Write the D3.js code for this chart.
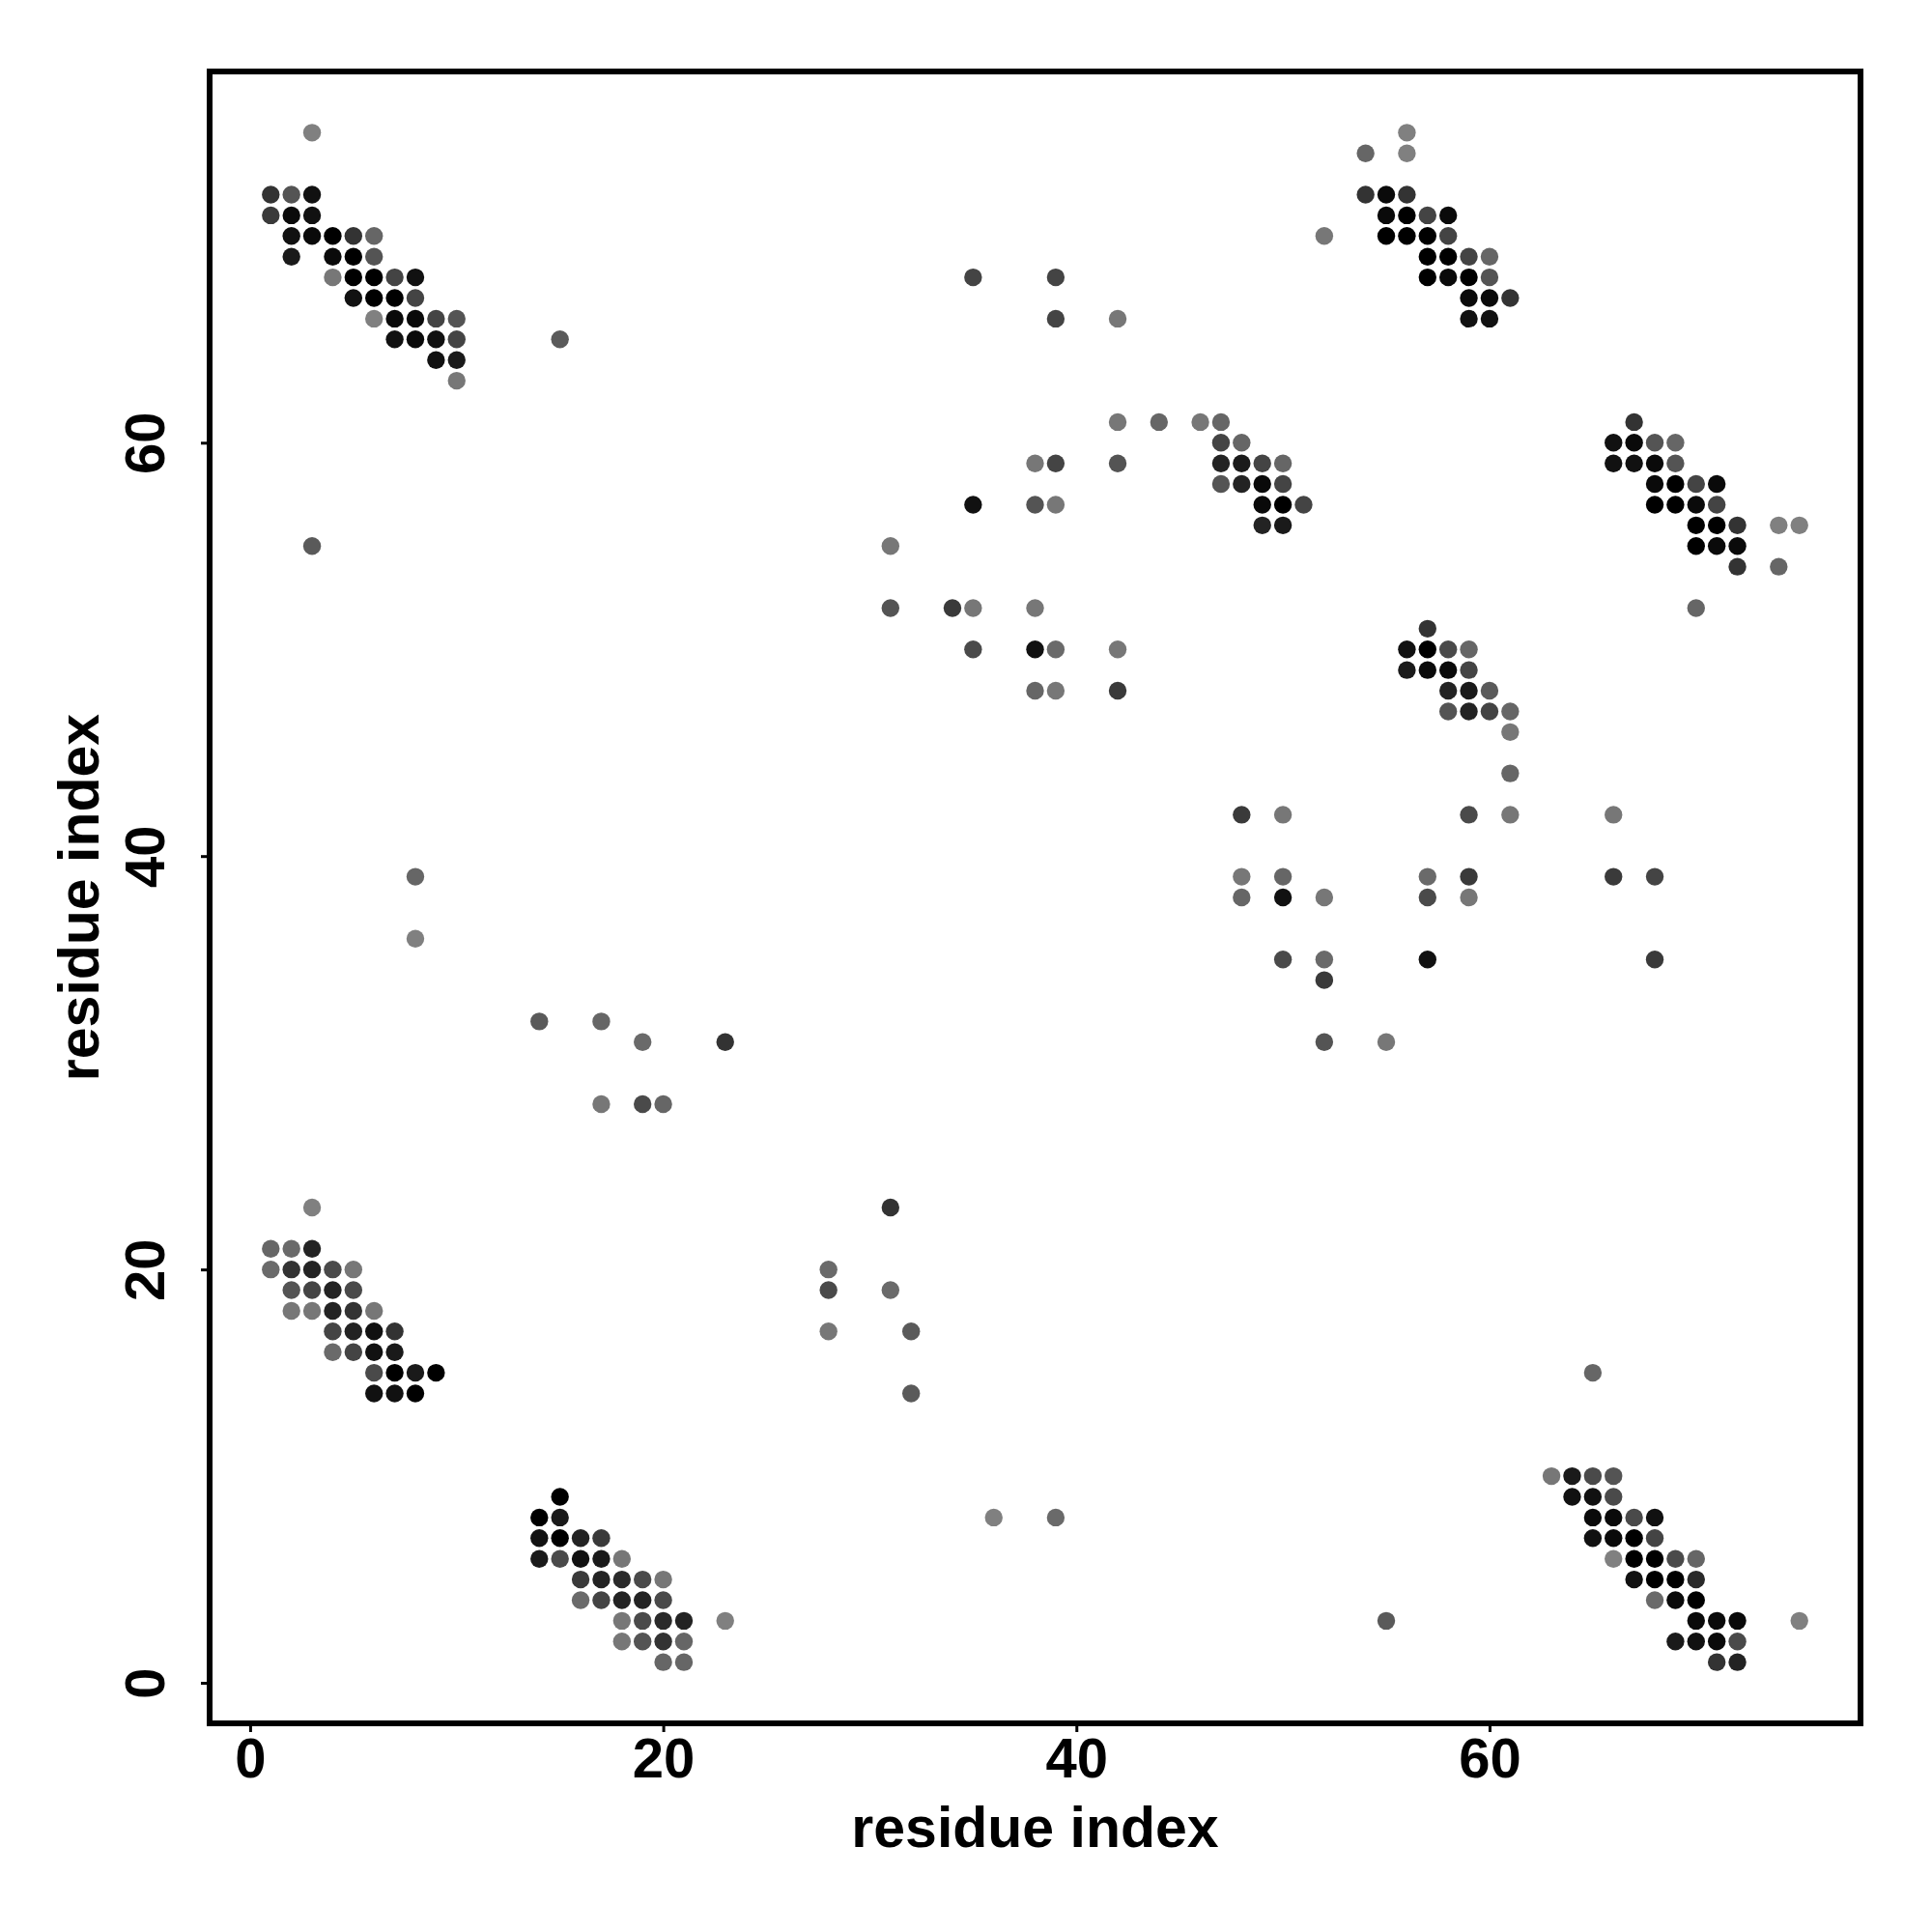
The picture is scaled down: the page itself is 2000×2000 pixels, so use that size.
<!DOCTYPE html>
<html>
<head>
<meta charset="utf-8">
<script src="https://cdn.jsdelivr.net/npm/d3@7"></script>
<style>
  body { margin: 0; background: #fff; }
  text { font-family: "Liberation Sans", Arial, sans-serif; font-weight: bold; fill: #000; }
</style>
</head>
<body>
<div class="canvas"></div>
<script>
// contacts as [residue i, residue j, contact probability]
const topLeftBlock = [
    [3,75,0.00],
    [1,72,0.60],[2,72,0.34],[3,72,0.87],
    [1,71,0.55],[2,71,0.92],[3,71,0.87],
    [2,70,0.87],[3,70,0.92],[4,70,1.00],[5,70,0.60],[6,70,0.20],
    [2,69,0.80],[4,69,0.92],[5,69,1.00],[6,69,0.34],
    [4,68,0.07],[5,68,1.00],[6,68,1.00],[7,68,0.47],[8,68,0.87],
    [5,67,0.87],[6,67,1.00],[7,67,1.00],[8,67,0.47],
    [6,66,0.00],[7,66,0.92],[8,66,0.92],[9,66,0.47],[10,66,0.34],
    [7,65,0.87],[8,65,0.92],[9,65,0.87],[10,65,0.47],
    [9,64,0.87],[10,64,0.80],
    [10,63,0.07],
    [15,65,0.30],[3,55,0.30]
];

const topRightBlock = [
    [56,75,0.00],
    [54,74,0.20],[56,74,0.00],
    [54,72,0.60],[55,72,0.92],[56,72,0.60],
    [55,71,0.92],[56,71,1.00],[57,71,0.47],[58,71,0.92],
    [52,70,0.07],[55,70,1.00],[56,70,1.00],[57,70,1.00],[58,70,0.47],
    [57,69,1.00],[58,69,1.00],[59,69,0.47],[60,69,0.20],
    [57,68,1.00],[58,68,0.92],[59,68,1.00],[60,68,0.34],
    [59,67,0.92],[60,67,0.92],[61,67,0.60],
    [59,66,0.87],[60,66,0.87]
];

const rightBlock = [
    [67,61,0.60],
    [66,60,0.87],[67,60,0.92],[68,60,0.34],[69,60,0.20],
    [66,59,0.87],[67,59,0.87],[68,59,0.92],[69,59,0.34],
    [68,58,0.92],[69,58,1.00],[70,58,0.47],[71,58,0.92],
    [68,57,1.00],[69,57,1.00],[70,57,0.92],[71,57,0.47],
    [70,56,1.00],[71,56,1.00],[72,56,0.60],[74,56,0.00],[75,56,0.00],
    [70,55,1.00],[71,55,0.92],[72,55,0.92],
    [72,54,0.60],[74,54,0.20],
    [70,52,0.20]
];

const upperMiddle = [
    [35,68,0.47],[39,68,0.47],[39,66,0.47],[42,66,0.07],
    [42,61,0.07],[44,61,0.20],[46,61,0.07],[47,61,0.20],
    [47,60,0.47],[48,60,0.20],
    [38,59,0.07],[39,59,0.47],[42,59,0.34],[47,59,0.73],[48,59,0.80],[49,59,0.47],[50,59,0.20],
    [47,58,0.34],[48,58,0.73],[49,58,0.92],[50,58,0.47],
    [35,57,0.87],[38,57,0.34],[39,57,0.07],[49,57,0.92],[50,57,1.00],[51,57,0.47],
    [49,56,0.73],[50,56,0.80],
    [31,55,0.07],
    [31,52,0.34],[34,52,0.55],[35,52,0.07],[38,52,0.07],
    [35,50,0.42],[38,50,0.87],[39,50,0.17],[42,50,0.07],
    [38,48,0.20],[39,48,0.07],[42,48,0.55]
];

const middleRight = [
    [57,51,0.60],
    [56,50,0.87],[57,50,1.00],[58,50,0.42],[59,50,0.20],
    [56,49,0.80],[57,49,0.92],[58,49,0.92],[59,49,0.47],
    [58,48,0.73],[59,48,0.80],[60,48,0.30],
    [58,47,0.34],[59,47,0.73],[60,47,0.47],[61,47,0.20],
    [61,46,0.07],[61,44,0.20],
    [48,42,0.55],[50,42,0.07],[59,42,0.42],[61,42,0.07],[66,42,0.07],
    [48,39,0.07],[50,39,0.20],[57,39,0.17],[59,39,0.55],[66,39,0.55],[68,39,0.47],
    [48,38,0.20],[50,38,0.87],[52,38,0.07],[57,38,0.42],[59,38,0.07],
    [50,35,0.42],[52,35,0.17],[57,35,0.87],[68,35,0.55],
    [52,34,0.55],
    [52,31,0.34],[55,31,0.07]
];

const leftMiddle = [
    [8,39,0.20],[8,36,0.00],
    [14,32,0.30],[17,32,0.20],
    [19,31,0.17],[23,31,0.60],
    [17,28,0.07],[19,28,0.42],[20,28,0.20]
];

const bottomLeftBlock = [
    [3,23,0.00],
    [1,21,0.20],[2,21,0.17],[3,21,0.73],
    [1,20,0.17],[2,20,0.60],[3,20,0.73],[4,20,0.42],[5,20,0.07],
    [2,19,0.34],[3,19,0.47],[4,19,0.73],[5,19,0.42],
    [2,18,0.07],[3,18,0.07],[4,18,0.73],[5,18,0.60],[6,18,0.07],
    [4,17,0.47],[5,17,0.73],[6,17,0.87],[7,17,0.60],
    [4,16,0.17],[5,16,0.47],[6,16,0.87],[7,16,0.80],
    [6,15,0.42],[7,15,1.00],[8,15,0.80],[9,15,1.00],
    [6,14,0.87],[7,14,0.87],[8,14,1.00]
];

const bottomBlock = [
    [15,9,1.00],
    [14,8,1.00],[15,8,0.80],
    [14,7,0.87],[15,7,1.00],[16,7,0.73],[17,7,0.55],
    [14,6,0.80],[15,6,0.42],[16,6,0.87],[17,6,0.80],[18,6,0.07],
    [16,5,0.55],[17,5,0.73],[18,5,0.67],[19,5,0.42],[20,5,0.07],
    [16,4,0.17],[17,4,0.47],[18,4,0.73],[19,4,0.73],[20,4,0.42],
    [18,3,0.07],[19,3,0.42],[20,3,0.67],[21,3,0.73],[23,3,0.00],
    [18,2,0.07],[19,2,0.34],[20,2,0.60],[21,2,0.20],
    [20,1,0.20],[21,1,0.20]
];

const lowerMiddle = [
    [31,23,0.60],[28,20,0.17],[28,19,0.42],[31,19,0.17],
    [28,17,0.07],[32,17,0.30],[32,14,0.30],
    [36,8,0.00],[39,8,0.17],[55,3,0.30]
];

const bottomRightBlock = [
    [65,15,0.20],
    [63,10,0.07],[64,10,0.80],[65,10,0.42],[66,10,0.34],
    [64,9,0.87],[65,9,0.87],[66,9,0.42],
    [65,8,0.92],[66,8,0.92],[67,8,0.42],[68,8,0.87],
    [65,7,0.87],[66,7,0.92],[67,7,1.00],[68,7,0.47],
    [66,6,0.00],[67,6,1.00],[68,6,1.00],[69,6,0.42],[70,6,0.20],
    [67,5,0.87],[68,5,1.00],[69,5,1.00],[70,5,0.67],
    [68,4,0.17],[69,4,0.92],[70,4,1.00],
    [70,3,0.92],[71,3,0.92],[72,3,0.92],[75,3,0.00],
    [69,2,0.80],[70,2,0.87],[71,2,0.92],[72,2,0.42],
    [71,1,0.60],[72,1,0.73]
];

const xTicks = [0, 20, 40, 60];
const yTicks = [0, 20, 40, 60];
const xLabel = 'residue index';
const yLabel = 'residue index';

const contacts = [].concat(topLeftBlock, topRightBlock, rightBlock, upperMiddle,
    middleRight, leftMiddle, bottomLeftBlock, bottomBlock, lowerMiddle, bottomRightBlock);

const margin = {top: 74, right: 74, bottom: 216, left: 217};
const graphWidth = 2000 - margin.left - margin.right;
const graphHeight = 2000 - margin.top - margin.bottom;

const svg = d3.select('.canvas')
    .append('svg')
    .attr('width', 2000)
    .attr('height', 2000);

const graph = svg.append('g')
    .attr('transform', `translate(${margin.left}, ${margin.top})`);

// R style 4% padding round the data range
const pad = ext => {
    const d = (ext[1] - ext[0]) * 0.04;
    return [ext[0] - d, ext[1] + d];
};

const x = d3.scaleLinear()
    .domain(pad(d3.extent(contacts, d => d[0])))
    .range([0, graphWidth]);
const y = d3.scaleLinear()
    .domain(pad(d3.extent(contacts, d => d[1])))
    .range([graphHeight, 0]);

const shade = d3.scaleLinear()
    .domain([0, 1])
    .range(['#808080', '#000000']);

graph.selectAll('circle')
    .data(contacts)
    .enter()
    .append('circle')
    .attr('cx', d => x(d[0]))
    .attr('cy', d => y(d[1]))
    .attr('r', 9.2)
    .attr('fill', d => shade(d[2]));

const xAxis = d3.axisBottom(x).tickValues(xTicks).tickSize(9);
const yAxis = d3.axisLeft(y).tickValues(yTicks).tickSize(9);

const xAxisGroup = graph.append('g')
    .attr('transform', `translate(0, ${graphHeight})`)
    .call(xAxis);
const yAxisGroup = graph.append('g')
    .call(yAxis);

[xAxisGroup, yAxisGroup].forEach(g => {
    g.select('.domain').remove();
    g.selectAll('line').attr('stroke', '#000').attr('stroke-width', 3);
    g.selectAll('text')
        .style('font-family', '"Liberation Sans", Arial, sans-serif')
        .style('font-weight', 'bold')
        .style('font-size', '58px');
});

xAxisGroup.selectAll('text')
    .attr('y', 56)
    .attr('dy', null);

yAxisGroup.selectAll('text')
    .attr('transform', 'rotate(-90)')
    .attr('x', 0)
    .attr('y', -47)
    .attr('dy', null)
    .attr('text-anchor', 'middle');

graph.append('rect')
    .attr('width', graphWidth)
    .attr('height', graphHeight)
    .attr('fill', 'none')
    .attr('stroke', '#000')
    .attr('stroke-width', 6);

graph.append('text')
    .attr('x', graphWidth / 2)
    .attr('y', graphHeight + 128)
    .attr('text-anchor', 'middle')
    .style('font-size', '59px')
    .text(xLabel);

graph.append('text')
    .attr('transform', `translate(-115, ${graphHeight / 2}) rotate(-90)`)
    .attr('text-anchor', 'middle')
    .style('font-size', '59px')
    .text(yLabel);
</script>
</body>
</html>
